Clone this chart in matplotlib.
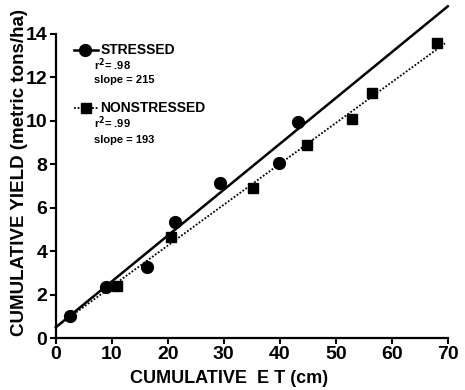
import numpy as np
import matplotlib.pyplot as plt

plt.rcParams['font.family'] = ['Liberation Sans', 'DejaVu Sans']
plt.rcParams['font.weight'] = 'bold'

# stressed (circles)
et_stressed = [2.5, 8.9, 16.2, 21.2, 29.4, 39.9, 43.3]
yield_stressed = [1.0, 2.35, 3.27, 5.35, 7.14, 8.06, 9.95]
# nonstressed (squares)
et_nonstressed = [10.9, 20.5, 35.3, 44.9, 52.9, 56.5, 68.1]
yield_nonstressed = [2.4, 4.65, 6.9, 8.9, 10.1, 11.3, 13.6]

# fitted lines (intercept, slope in t/ha per cm)
fit_stressed = (0.5, 0.211)
fit_nonstressed = (0.5, 0.188)
fit_x_stressed = [0, 70]
fit_x_nonstressed = [0, 69.5]

fig = plt.figure(figsize=(4.65, 3.9), dpi=100)
ax = fig.add_axes([0.12, 0.133, 0.843, 0.78])

xs = np.array(fit_x_stressed)
ax.plot(xs, fit_stressed[0] + fit_stressed[1] * xs, color='black', lw=1.8, clip_on=False)
xn = np.array(fit_x_nonstressed)
ax.plot(xn, fit_nonstressed[0] + fit_nonstressed[1] * xn, color='black', lw=1.3,
        linestyle=(0, (1, 1)), clip_on=False)

ax.plot(et_stressed, yield_stressed, 'o', color='black', ms=8.5, clip_on=False)
ax.plot(et_nonstressed, yield_nonstressed, 's', color='black', ms=7.5, clip_on=False)

ax.set_xlim(0, 70)
ax.set_ylim(0, 14)
ax.set_xticks(np.arange(0, 71, 10))
ax.set_yticks(np.arange(0, 15, 2))
ax.spines['top'].set_visible(False)
ax.spines['right'].set_visible(False)
for s in ['left', 'bottom']:
    ax.spines[s].set_linewidth(1.6)
ax.tick_params(direction='out', length=4, width=1.5, labelsize=14, pad=2)
for lab in ax.get_xticklabels() + ax.get_yticklabels():
    lab.set_fontweight('bold')

ax.set_xlabel('CUMULATIVE  E T (cm)', fontsize=13, fontweight='bold')
ax.xaxis.set_label_coords(0.443, -0.105)
ax.set_ylabel('CUMULATIVE YIELD (metric tons/ha)', fontsize=13.5, fontweight='bold')
ax.yaxis.set_label_coords(-0.072, 0.543)

# legend drawn by hand
ax.plot([3.2, 7.5], [13.27, 13.27], color='black', lw=1.8, clip_on=False)
ax.plot([5.3], [13.27], 'o', color='black', ms=8.5)
ax.text(8.0, 13.27, 'STRESSED', fontsize=10, fontweight='bold', va='center')
ax.text(6.8, 12.58, 'r$^2$= .98', fontsize=8, fontweight='bold', va='center')
ax.text(6.8, 11.9, 'slope = 215', fontsize=8, fontweight='bold', va='center')

ax.plot([3.2, 7.7], [10.6, 10.6], color='black', lw=1.3, linestyle=(0, (1, 1)))
ax.plot([5.4], [10.6], 's', color='black', ms=7.5)
ax.text(8.0, 10.6, 'NONSTRESSED', fontsize=10, fontweight='bold', va='center')
ax.text(6.8, 9.9, 'r$^2$= .99', fontsize=8, fontweight='bold', va='center')
ax.text(6.8, 9.12, 'slope = 193', fontsize=8, fontweight='bold', va='center')

fig.savefig('out.png', dpi=100)
